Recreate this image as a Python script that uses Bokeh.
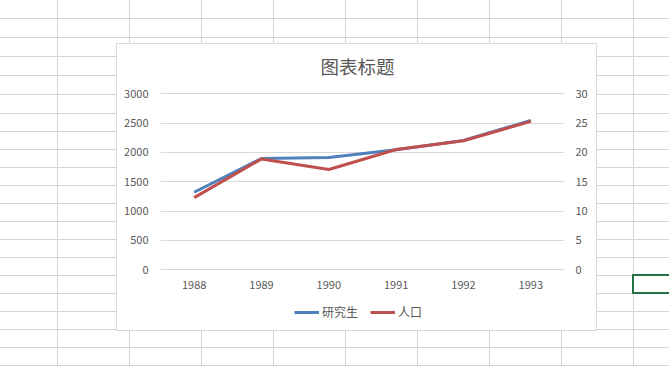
from urllib.parse import quote
from bokeh.plotting import figure
from bokeh.layouts import column
from bokeh.models import Range1d, FactorRange, LinearAxis, FixedTicker, Legend, LegendItem
from bokeh.embed import file_html
from bokeh.resources import INLINE

# ---- data ----
years = ["1988", "1989", "1990", "1991", "1992", "1993"]
graduates = [1322, 1897, 1914, 2045, 2204, 2545]      # 研究生 (left axis)
population = [12.3, 18.9, 17.1, 20.5, 22.0, 25.3]     # 人口 (right axis)
left_ticks = [0, 500, 1000, 1500, 2000, 2500, 3000]
right_ticks = [0, 5, 10, 15, 20, 25, 30]
title_text = "图表标题"
series_names = ["研究生", "人口"]

FONT = "Noto Sans CJK SC"
TXT = "#595959"
BLUE = "#4F81BD"
RED = "#C0504D"

W, H = 669, 366
H_MAIN = 300
FRAME_LEFT = 160

# ---- spreadsheet backdrop (decoration only) ----
col_x = [57.5 + 72 * i for i in range(9)]
row_y = [18.5, 37.5, 56.5, 75.5, 94.5, 113.5, 131.5] + [149.5 + 18 * i for i in range(13)]
parts = []
for x in col_x:
    parts.append(f'<line x1="{x}" y1="0" x2="{x}" y2="{H}"/>')
for y in row_y:
    parts.append(f'<line x1="0" y1="{y}" x2="{W}" y2="{y}"/>')
svg = (
    f'<svg xmlns="http://www.w3.org/2000/svg" width="{W}" height="{H}">'
    f'<rect x="0" y="0" width="{W}" height="{H}" fill="#ffffff"/>'
    f'<g stroke="#d4d4d4" stroke-width="1">{"".join(parts)}</g>'
    f'<rect x="116.5" y="43.5" width="480" height="287" fill="#ffffff" stroke="#d9d9d9" stroke-width="1"/>'
    f'<rect x="633" y="275" width="60" height="18" fill="none" stroke="#217346" stroke-width="2"/>'
    '</svg>'
)

# ---- main chart ----
p = figure(
    frame_width=404, frame_height=182,
    x_range=FactorRange(factors=years, range_padding=0),
    y_range=Range1d(-46, 3056),
    output_backend="svg", toolbar_location=None, tools="",
    min_border_left=FRAME_LEFT, min_border_right=105, min_border_top=90,
    min_border_bottom=H_MAIN - 90 - 182,
)
p.border_fill_color = None
p.background_fill_color = None
p.outline_line_color = None

p.extra_y_ranges = {"right": Range1d(-0.46, 30.56)}

p.title.text = title_text
p.title.text_font = FONT
p.title.text_font_size = "18.5px"
p.title.text_font_style = "normal"
p.title.text_color = TXT
p.title.align = "left"
p.title.offset = 160
p.title.standoff = 24

p.xgrid.grid_line_color = None
p.ygrid.grid_line_color = "#D9D9D9"
p.ygrid.grid_line_width = 1
p.ygrid.ticker = FixedTicker(ticks=left_ticks)

def style_axis(ax, standoff):
    ax.axis_line_color = None
    ax.major_tick_line_color = None
    ax.minor_tick_line_color = None
    ax.major_tick_in = 0
    ax.major_tick_out = 0
    ax.major_label_text_font = FONT
    ax.major_label_text_font_size = "11px"
    ax.major_label_text_color = TXT
    ax.major_label_standoff = standoff

style_axis(p.yaxis[0], 12)
p.yaxis[0].ticker = FixedTicker(ticks=left_ticks)
style_axis(p.xaxis[0], 8)

right_axis = LinearAxis(y_range_name="right", ticker=FixedTicker(ticks=right_ticks))
style_axis(right_axis, 11)
p.add_layout(right_axis, "right")

p.line(x=years, y=graduates, line_color=BLUE, line_width=3, line_join="round")
p.line(x=years, y=population, y_range_name="right", line_color=RED, line_width=3, line_join="round")

# ---- legend strip (separate figure below the chart; its frame aligns with the chart's) ----
H_LEG = H - H_MAIN
pl = figure(
    width=W, height=H_LEG, x_range=Range1d(0, 1), y_range=Range1d(0, 1),
    x_axis_type=None, y_axis_type=None,
    output_backend="svg", toolbar_location=None, tools="",
    min_border=0, min_border_left=0, min_border_right=0, min_border_top=0, min_border_bottom=0,
)
pl.border_fill_color = None
pl.background_fill_color = None
pl.outline_line_color = None
pl.xgrid.visible = False
pl.ygrid.visible = False
nan = float("nan")
k1 = pl.line(x=[nan, nan], y=[nan, nan], line_color=BLUE, line_width=3)
k2 = pl.line(x=[nan, nan], y=[nan, nan], line_color=RED, line_width=3)

legend = Legend(
    items=[LegendItem(label=series_names[0], renderers=[k1]),
           LegendItem(label=series_names[1], renderers=[k2])],
    orientation="horizontal", location=(294 - FRAME_LEFT, H_LEG - 20),
    label_text_font=FONT, label_text_font_size="12px", label_text_color=TXT,
    glyph_width=25, glyph_height=16, label_height=16, label_standoff=3, spacing=12,
    border_line_color=None, background_fill_alpha=0,
    padding=0, margin=0,
)
pl.add_layout(legend, "center")

layout = column(
    p, pl, spacing=0,
    styles={
        "background-image": f'url("data:image/svg+xml,{quote(svg)}")',
        "background-repeat": "no-repeat",
    },
)

open("out.html", "w").write(file_html(layout, INLINE))
